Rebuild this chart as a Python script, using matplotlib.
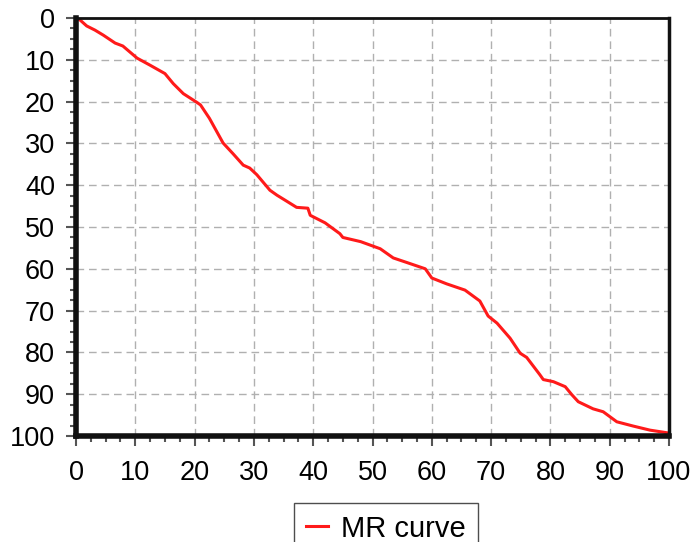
import matplotlib
matplotlib.use("Agg")
import matplotlib.pyplot as plt
from matplotlib.ticker import MultipleLocator

plt.rcParams['font.family'] = ['Liberation Sans', 'DejaVu Sans']

x_vals = [0, 0.7, 1.8, 3.2, 4.6, 6.6, 7.9, 10.3, 12.5, 15, 16.4, 18.1, 20.4, 21, 22.5,
          24.8, 26.5, 28.2, 29.3, 30.5, 32.7, 33.9, 35.5, 37.2, 39.1, 39.5, 42, 44.5,
          45, 48, 51.3, 53.5, 55.8, 58.9, 60, 62.5, 65.6, 68.1, 69.5, 71, 73.2, 74.9,
          76, 78.2, 78.8, 80.5, 82.5, 83.6, 84.7, 87.2, 88.9, 91.2, 93.9, 96.8, 100]
y_vals = [0, 0.5, 1.9, 2.9, 4.1, 6, 6.7, 9.6, 11.3, 13.3, 15.7, 18.1, 20.2, 20.8, 24,
          29.9, 32.5, 35.2, 35.9, 37.5, 41.2, 42.4, 43.8, 45.3, 45.5, 47.2, 49, 51.6,
          52.5, 53.5, 55.2, 57.4, 58.5, 60, 62.2, 63.6, 65.1, 67.7, 71.3, 73, 76.6, 80.2,
          81.2, 85.3, 86.5, 87, 88.2, 90.1, 91.8, 93.5, 94.2, 96.6, 97.6, 98.6, 99.3]
series_label = "MR curve"

fig = plt.figure(figsize=(6.97, 5.42), dpi=100)
ax = fig.add_axes([76/697, 1-436/542, (669-76)/697, (436-18)/542])
ax.plot(x_vals, y_vals, color='#ff1a1a', lw=2.2, label=series_label)
ax.set_xlim(0, 100)
ax.set_ylim(100, 0)
ax.xaxis.set_major_locator(MultipleLocator(10))
ax.yaxis.set_major_locator(MultipleLocator(10))
ax.xaxis.set_minor_locator(MultipleLocator(2.5))
ax.yaxis.set_minor_locator(MultipleLocator(2.5))
ax.grid(True, which='major', color='#b0b0b0', ls=(0, (5.5, 3.5)), lw=1)
ax.tick_params(which='major', direction='out', length=7, width=1.5, color='#555555',
               labelsize=19.5)
ax.tick_params(axis='x', which='major', pad=10)
ax.tick_params(axis='y', which='major', pad=8)
ax.tick_params(which='minor', direction='out', length=4, width=1.5, color='#555555')
ax.spines['left'].set_linewidth(4)
ax.spines['bottom'].set_linewidth(4)
ax.spines['top'].set_linewidth(2)
ax.spines['right'].set_linewidth(2.5)
for s in ax.spines.values():
    s.set_color('#111111')
ax.legend(loc='upper center', bbox_to_anchor=(386/697, 1-503/542), bbox_transform=fig.transFigure,
          frameon=True, fancybox=False, edgecolor='#222222', fontsize=21,
          handlelength=0.75, handletextpad=0.45, borderpad=0.4, borderaxespad=0)
fig.savefig('out.png', dpi=100)
